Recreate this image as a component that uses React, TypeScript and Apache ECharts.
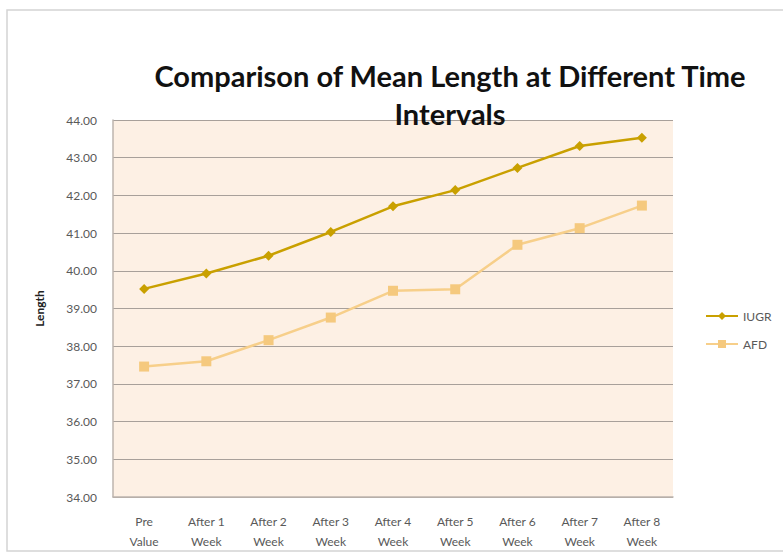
import React, { useEffect, useRef } from "react";
import * as echarts from "echarts";

const categories = [
  "Pre\nValue",
  "After 1\nWeek",
  "After 2\nWeek",
  "After 3\nWeek",
  "After 4\nWeek",
  "After 5\nWeek",
  "After 6\nWeek",
  "After 7\nWeek",
  "After 8\nWeek",
];
const iugr = [39.52, 39.93, 40.4, 41.03, 41.71, 42.14, 42.73, 43.31, 43.53];
const afd = [37.46, 37.6, 38.16, 38.76, 39.47, 39.51, 40.69, 41.13, 41.73];
const yMin = 34;
const yMax = 44;
const yStep = 1;

export default function App() {
  const ref = useRef<HTMLDivElement>(null);
  useEffect(() => {
    if (!ref.current) return;
    const chart = echarts.init(ref.current, undefined, { renderer: "svg" });
    const font = "Lato, 'Open Sans', sans-serif";
    chart.setOption({
      animation: false,
      backgroundColor: "#ffffff",
      graphic: [
        {
          type: "rect",
          shape: { x: 7, y: 10, width: 790, height: 541 },
          style: { fill: "none", stroke: "#d4d4d4", lineWidth: 1.5 },
          z: 0,
        },
      ],
      title: {
        text: "Comparison of Mean Length at Different Time\nIntervals",
        left: 445,
        top: 51,
        textAlign: "center",
        textStyle: {
          fontFamily: font,
          fontWeight: "bold",
          fontSize: 29,
          lineHeight: 38,
          color: "#111111",
        },
        z: 10,
      },
      legend: {
        orient: "vertical",
        left: 700,
        top: 305,
        itemGap: 16,
        itemWidth: 32,
        itemHeight: 10,
        textStyle: { fontFamily: font, fontSize: 12, color: "#595959" },
        data: ["IUGR", "AFD"],
      },
      grid: {
        left: 113,
        right: 110,
        top: 120,
        bottom: 63,
        show: true,
        backgroundColor: "#fdf0e4",
        borderWidth: 0,
      },
      xAxis: {
        type: "category",
        data: categories,
        boundaryGap: true,
        axisLine: { show: true, lineStyle: { color: "#bcb4ae", width: 1.5 } },
        axisTick: { show: false },
        axisLabel: {
          fontFamily: font,
          fontSize: 12,
          color: "#595959",
          lineHeight: 20,
          margin: 14,
          interval: 0,
        },
      },
      yAxis: {
        type: "value",
        min: yMin,
        max: yMax,
        interval: yStep,
        name: "Length",
        nameLocation: "middle",
        nameGap: 68,
        nameRotate: 90,
        nameTextStyle: {
          fontFamily: font,
          fontWeight: "bold",
          fontSize: 12,
          color: "#222222",
        },
        axisLine: { show: true, lineStyle: { color: "#bcb4ae", width: 1.5 } },
        axisTick: { show: false },
        splitLine: { show: true, lineStyle: { color: "#a8a09a", width: 1.2 } },
        axisLabel: {
          fontFamily: font,
          fontSize: 12,
          color: "#595959",
          margin: 16,
          formatter: (v: number) => v.toFixed(2),
        },
      },
      series: [
        {
          name: "IUGR",
          type: "line",
          data: iugr,
          symbol: "diamond",
          symbolSize: 10,
          lineStyle: { color: "#c9a000", width: 2.5 },
          itemStyle: { color: "#c9a000" },
          z: 3,
        },
        {
          name: "AFD",
          type: "line",
          data: afd,
          symbol: "rect",
          symbolSize: 10,
          lineStyle: { color: "#f7cf8a", width: 2.5 },
          itemStyle: { color: "#f5c97e" },
          z: 2,
        },
      ],
    });
    return () => chart.dispose();
  }, []);
  return (
    <div
      ref={ref}
      style={{ position: "absolute", left: 0, top: 0, width: 783, height: 560 }}
    />
  );
}
